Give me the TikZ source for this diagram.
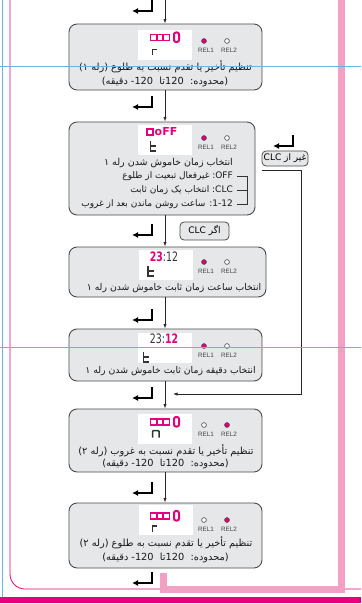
\documentclass[tikz,border=0pt]{standalone}
\usepackage{fontspec}
\setmainfont{Liberation Sans}
\newfontfamily\fa[Script=Arabic]{DejaVu Sans}
\newfontfamily\seg{DejaVu Sans}
\TeXXeTstate=1
\usetikzlibrary{arrows.meta}
\definecolor{mag}{RGB}{230,0,126}
\definecolor{pinkbar}{RGB}{243,160,197}
\definecolor{cyanl}{RGB}{95,185,228}
\definecolor{boxfill}{RGB}{230,231,232}
\definecolor{boxline}{RGB}{75,75,75}
\tikzset{
  panel/.style={draw=boxline,fill=boxfill,rounded corners=8pt,line width=0.9pt,inner sep=0pt},
  screen/.style={fill=white,minimum width=54pt,minimum height=30pt,inner sep=0pt},
  flow/.style={draw=black!85,line width=0.7pt,-{Latex[length=4.5pt,width=3.2pt]}},
  enter/.style={line width=1.4pt,-{Latex[length=6pt,width=6pt]}},
  txt/.style={font=\fa\fontsize{9.8}{10}\selectfont,inner sep=0pt,text=black!90},
  opt/.style={txt,font=\fa\fontsize{9}{10}\selectfont,anchor=east},
  rel/.style={font=\fontsize{6.3}{7}\selectfont,inner sep=0pt,text=black!75},
  led/.style={draw=black!75,line width=0.6pt},
  glyph/.style={draw=black!80,line width=1.5pt},
  segm/.style={draw=mag,line width=1.1pt},
  zero/.style={draw=mag,line width=2pt,rounded corners=2pt},
  disp/.style={inner sep=0pt,font=\seg\fontsize{13}{13}\selectfont},
  tag/.style={draw=boxline,fill=boxfill,rounded corners=4pt,line width=0.8pt,inner sep=0pt,font=\fa\fontsize{9}{9}\selectfont}
}
\newcommand{\panel}[5]{\node[panel,minimum width=#4pt,minimum height=#5pt] (#1) at (#2,#3) {};}
\newcommand{\screen}[3]{\node[screen] (#1) at (#2,#3) {};}
\newcommand{\leds}[4]{\draw[led,fill=#3] (204,#2) circle (2.4pt); \draw[led,fill=#4] (227,#2) circle (2.4pt);
  \node[rel] (#1a) at (206,#2+9) {REL1}; \node[rel] (#1b) at (229,#2+9) {REL2};}
\newcommand{\blocks}[1]{\foreach \i in {0,1,2} \draw[segm] (150.5+6.5*\i,#1) rectangle ++(6,6);
  \draw[zero] (174,#1-2) rectangle ++(5,9.5);}
\newcommand{\segr}[2]{\draw[glyph] (#1,#2+5.5) -- (#1,#2) -- (#1+4.5,#2);}
\newcommand{\segt}[2]{\draw[glyph] (#1,#2) -- (#1,#2+10) -- (#1+5.5,#2+10) (#1,#2+5) -- (#1+5.5,#2+5);}
\newcommand{\segn}[2]{\draw[glyph,rounded corners=1pt] (#1,#2+7) -- (#1,#2) -- (#1+6.5,#2) -- (#1+6.5,#2+7);}
\newcommand{\enterkey}[2]{\draw[enter] (#1,#2-11) -- (#1,#2) -- (#1-20,#2);}

\begin{document}
\begin{tikzpicture}[x=1pt,y=-1pt]
    \useasboundingbox (0,0) rectangle (361,604);
    % page frame
    \draw[cyanl,line width=1.5pt] (2.5,0) -- (2.5,597);
    \draw[mag,line width=0.8pt,rounded corners=15pt] (10,0) -- (10,589) -- (361,589);
    \draw[pinkbar,line width=7pt] (341.5,0) -- (341.5,589) -- (163.5,589) -- (163.5,573);
    \fill[mag] (0,597) rectangle (361,603);
    % panels
    \panel{b1}{165.5}{57}{193}{66}    \screen{s1}{165}{45}
    \panel{b2}{162}{168.5}{186}{93}   \screen{s2}{165}{140}
    \panel{b3}{167.5}{272}{197}{50}   \screen{s3}{166}{265}
    \panel{b4}{165.5}{355}{193}{52}   \screen{s4}{165}{348}
    \panel{b5}{165.5}{440.5}{193}{63} \screen{s5}{165}{428.5}
    \panel{b6}{165.5}{535.5}{193}{65} \screen{s6}{166}{520}
    % displays
    \blocks{34.5} \segr{152.5}{49.5} \leds{r1}{41}{mag}{white}
    \draw[segm] (147,129) rectangle ++(6,6);
    \node[disp,font=\seg\bfseries\fontsize{11}{11}\selectfont,text=mag] (d2) at (166,131.5) {oFF};
    \segt{150.5}{141} \leds{r2}{138}{mag}{white}
    \node[disp] (d3) at (164,257) {\scalebox{0.72}[1]{\textcolor{mag}{\bfseries 23}\textcolor{black!80}{:12}}};
    \segt{148}{266} \leds{r3}{262}{mag}{white}
    \node[disp] (d4) at (164,339) {\scalebox{0.72}[1]{\textcolor{black!80}{23:}\textcolor{mag}{\bfseries 12}}};
    \segt{143.5}{352} \leds{r4}{346}{mag}{white}
    \blocks{419} \segn{152.5}{430.5} \leds{r5}{425}{white}{mag}
    \blocks{513} \segr{152.5}{526} \leds{r6}{520}{white}{mag}
    % texts
    \node[txt] (t1a) at (165.5,67) {\beginR تنظیم تأخیر یا تقدم نسبت به طلوع (رله ۱)\endR};
    \node[txt] (t1b) at (165,82) {\beginR(محدوده:\ \ \beginL120\endL تا\ \ \beginL120-\endL{} دقیقه)\endR};
    \node[opt,font=\fa\fontsize{9.5}{10}\selectfont] (t2a) at (233,163) {\beginR انتخاب زمان خاموش شدن رله ۱\endR};
    \node[opt] (t2b) at (233,176) {\beginR\beginL OFF\endL: غیرفعال تبعیت از طلوع\endR};
    \node[opt] (t2c) at (233,190) {\beginR\beginL CLC\endL: انتخاب یک زمان ثابت\endR};
    \node[opt] (t2d) at (233,204) {\beginR\beginL 1-12\endL: ساعت روشن ماندن بعد از غروب\endR};
    \draw[line width=0.9pt,black!80] (237,176) -- (247,176) -- (247,204) -- (237,204) (237,190) -- (247,190);
    \node[txt,font=\fa\fontsize{9.3}{10}\selectfont] (t3) at (174,288) {\beginR انتخاب ساعت زمان ثابت خاموش شدن رله ۱\endR};
    \node[txt,font=\fa\fontsize{9.3}{10}\selectfont] (t4) at (170.5,371) {\beginR انتخاب دقیقه زمان ثابت خاموش شدن رله ۱\endR};
    \node[txt] (t5a) at (166,451) {\beginR تنظیم تأخیر یا تقدم نسبت به غروب (رله ۲)\endR};
    \node[txt] (t5b) at (165.5,464) {\beginR(محدوده:\ \ \beginL120\endL تا\ \ \beginL120-\endL{} دقیقه)\endR};
    \node[txt] (t6a) at (166,543) {\beginR تنظیم تأخیر یا تقدم نسبت به طلوع (رله ۲)\endR};
    \node[txt] (t6b) at (165.5,558) {\beginR(محدوده:\ \ \beginL120\endL تا\ \ \beginL120-\endL{} دقیقه)\endR};
    % side tags
    \node[tag,minimum width=46pt,minimum height=15pt] (notclc) at (285,158.5) {\beginR غیر از \beginL CLC\endL\endR};
    \node[tag,minimum width=49pt,minimum height=18pt] (ifclc) at (204.5,231) {\beginR اگر \beginL CLC\endL\endR};
    % flow
    \coordinate (top) at (165,0);
    \draw[flow] (top) -- (top |- b1.north);
    \draw[flow] (b1.south -| top) -- (b2.north -| top);
    \draw[flow] (b2.south -| top) -- (b3.north -| top);
    \draw[flow] (b3.south -| top) -- (b4.north -| top);
    \draw[flow] (b4.south -| top) -- (b5.north -| top);
    \draw[flow] (b5.south -| top) -- (b6.north -| top);
    \coordinate (nb) at ([yshift=-4pt]notclc.south west);
    \coordinate (nd) at (173,394);
    \draw[flow] (nb) -| (301,394) -- (nd);
    % enter keys
    \enterkey{152}{11} \enterkey{152}{107} \enterkey{152}{235} \enterkey{152}{320}
    \enterkey{152}{398} \enterkey{152}{493} \enterkey{152}{583} \enterkey{293}{146}
    % guide lines
    \draw[cyanl,line width=0.9pt] (0,66) -- (361,66) (0,347) -- (361,347);
\end{tikzpicture}
\end{document}
